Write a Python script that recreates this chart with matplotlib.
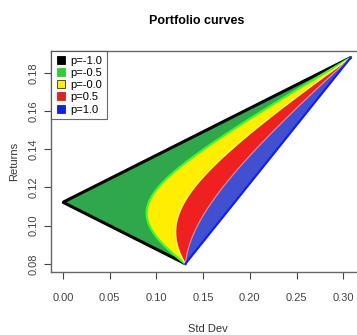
import numpy as np
import matplotlib
matplotlib.use("Agg")
import matplotlib.pyplot as plt
from matplotlib.lines import Line2D

plt.rcParams['font.family'] = ['Liberation Sans Narrow', 'Liberation Sans', 'DejaVu Sans']

# Two assets: expected returns and standard deviations
asset_returns = [0.08, 0.188]
asset_sds = [0.131, 0.308]
correlations = [-1.0, -0.5, 0.0, 0.5, 1.0]
legend_labels = ["p=-1.0", "p=-0.5", "p=-0.0", "p=0.5", "p=1.0"]
legend_colors = ["#000000", "#33cc33", "#ffee00", "#dd2222", "#1020dd"]
fill_colors = ["#2ea84a", "#ffee00", "#ee2020", "#4050d0"]
edge_colors = ["#000000", "#33ff33", "#ffff66", "#ff8888", "#1020ee"]
edge_widths = [2.2, 1.6, 1.0, 0.8, 1.6]
x_ticks = [0.00, 0.05, 0.10, 0.15, 0.20, 0.25, 0.30]
y_ticks = [0.08, 0.10, 0.12, 0.14, 0.16, 0.18]

w = np.linspace(0, 1, 401)
r1, r2 = asset_returns
s1, s2 = asset_sds


def frontier(rho):
    ret = w * r1 + (1 - w) * r2
    var = (w * s1) ** 2 + ((1 - w) * s2) ** 2 + 2 * w * (1 - w) * rho * s1 * s2
    return np.sqrt(np.clip(var, 0, None)), ret


fig = plt.figure(figsize=(3.57, 3.35), dpi=100)
ax = fig.add_axes([0.144, 0.188, 0.876, 0.659])

for i, rho in enumerate(correlations):
    x, y = frontier(rho)
    if i < len(fill_colors):
        ax.fill(x, y, color=fill_colors[i], lw=0, zorder=2 + i)
    ax.plot(x, y, color=edge_colors[i], lw=edge_widths[i], zorder=2.5 + i,
            solid_capstyle='round')

ax.set_xlim(-0.0124, 0.3224)
ax.set_ylim(0.0757, 0.1913)
ax.set_xticks(x_ticks)
ax.set_xticklabels([f"{t:.2f}" for t in x_ticks])
ax.set_yticks(y_ticks)
ax.set_yticklabels([f"{t:.2f}" for t in y_ticks])
ax.tick_params(labelsize=8, colors='#444444', length=5, width=0.8)
ax.tick_params(axis='x', pad=10)
ax.tick_params(axis='y', pad=4, labelrotation=90)
for lbl in ax.get_yticklabels():
    lbl.set_va('center')
for sp in ax.spines.values():
    sp.set_color('#666666')
    sp.set_linewidth(1.0)

ax.set_xlabel("Std Dev", fontsize=8, color='#333333', labelpad=15)
ax.set_ylabel("Returns", fontsize=8, color='#333333', labelpad=7)
fig.suptitle("Portfolio curves", fontsize=9, fontweight='bold', y=0.955, x=0.55)

handles = [Line2D([], [], marker='s', ls='', markersize=6, markerfacecolor=c,
                  markeredgecolor='#333333' if c == "#ffee00" else c, markeredgewidth=0.6)
           for c in legend_colors]
leg = ax.legend(handles, legend_labels, loc='upper left', fontsize=8,
                frameon=True, fancybox=False, borderpad=0.4, labelspacing=0.2,
                handletextpad=0.3, handlelength=1.0, borderaxespad=0)
leg.get_frame().set_edgecolor('#444444')
leg.get_frame().set_linewidth(0.8)
leg.set_zorder(10)

fig.savefig("out.png", dpi=100)
